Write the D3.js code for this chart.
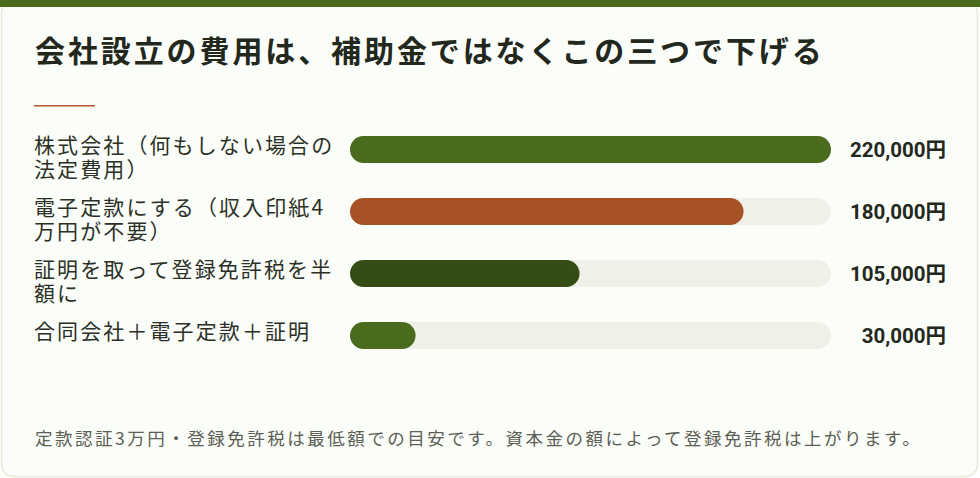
<!DOCTYPE html>
<html><head><meta charset="utf-8">
<script src="https://cdn.jsdelivr.net/npm/d3@7"></script>
<style>
html,body{margin:0;padding:0;background:#ffffff;}
svg{display:block;}
</style></head>
<body>
<svg id="chart" width="980" height="478"></svg>
<script>
const title = "会社設立の費用は、補助金ではなくこの三つで下げる";
const categories = [
  "株式会社（何もしない場合の法定費用）",
  "電子定款にする（収入印紙4万円が不要）",
  "証明を取って登録免許税を半額に",
  "合同会社＋電子定款＋証明"
];
const values = [220000, 180000, 105000, 30000];
const barColors = ["#4a6a1e", "#a65126", "#344d15", "#4a6a1e"];
const domainMax = 220000;
const note = "定款認証3万円・登録免許税は最低額での目安です。資本金の額によって登録免許税は上がります。";

const svg = d3.select("#chart");
const W = 980, H = 478;
const cjk = "'Noto Sans CJK JP','Noto Sans',sans-serif";

// card
svg.append("rect").attr("x", 1.5).attr("y", 1).attr("width", W - 4).attr("height", H - 2.5)
  .attr("rx", 12).attr("fill", "#fbfdf9").attr("stroke", "#e6e9d6").attr("stroke-width", 1.5);
svg.append("rect").attr("x", 0).attr("y", 0).attr("width", W).attr("height", 7).attr("fill", "#4a6a1e");

// title
svg.append("text").attr("x", 35).attr("y", 48.5).attr("dominant-baseline", "central")
  .attr("font-family", cjk).attr("font-weight", 700).attr("font-size", 30)
  .attr("letter-spacing", 2.9).attr("fill", "#22281c").text(title);
svg.append("rect").attr("x", 34).attr("y", 105).attr("width", 61).attr("height", 1.5).attr("fill", "#b0582a");

const x = d3.scaleLinear().domain([0, domainMax]).range([350, 831]);
const y = d3.scaleBand().domain(categories).range([133, 381]).paddingInner(0).paddingOuter(0);
const barH = 27;

const rows = svg.selectAll("g.row").data(categories).join("g").attr("class", "row")
  .attr("transform", d => `translate(0,${y(d)})`);

// labels with char wrap
rows.each(function(d) {
  const g = d3.select(this);
  const t = g.append("text").attr("font-family", cjk).attr("font-size", 21)
    .attr("letter-spacing", 2.1).attr("fill", "#2b3026");
  const maxW = 310;
  const chars = Array.from(d);
  let lines = [], cur = "";
  const tmp = t.append("tspan");
  for (const c of chars) {
    tmp.text(cur + c);
    if (tmp.node().getComputedTextLength() > maxW && cur) { lines.push(cur); cur = c; }
    else cur += c;
  }
  lines.push(cur);
  tmp.remove();
  lines.forEach((ln, i) => {
    t.append("tspan").attr("x", 34).attr("y", 11 + i * 24).attr("dominant-baseline", "central").text(ln);
  });
});

const y0 = 3;
rows.append("rect").attr("x", x(0)).attr("y", y0).attr("width", x(domainMax) - x(0)).attr("height", barH)
  .attr("rx", barH / 2).attr("fill", "#eff1e8");
rows.append("rect").attr("x", x(0)).attr("y", y0)
  .attr("width", (d, i) => x(values[i]) - x(0)).attr("height", barH)
  .attr("rx", barH / 2).attr("fill", (d, i) => barColors[i]);

rows.append("text").attr("x", 946).attr("y", y0 + barH / 2).attr("dominant-baseline", "central")
  .attr("text-anchor", "end").attr("font-family", "Roboto,'Noto Sans CJK JP',sans-serif")
  .attr("font-weight", 700).attr("font-size", 20.5).attr("fill", "#22281c")
  .text((d, i) => d3.format(",")(values[i]) + "円");

// note
svg.append("text").attr("x", 35).attr("y", 437).attr("dominant-baseline", "central")
  .attr("font-family", cjk).attr("font-size", 17.5).attr("letter-spacing", 2.5)
  .attr("fill", "#5b6054").text(note);
</script>
</body></html>
